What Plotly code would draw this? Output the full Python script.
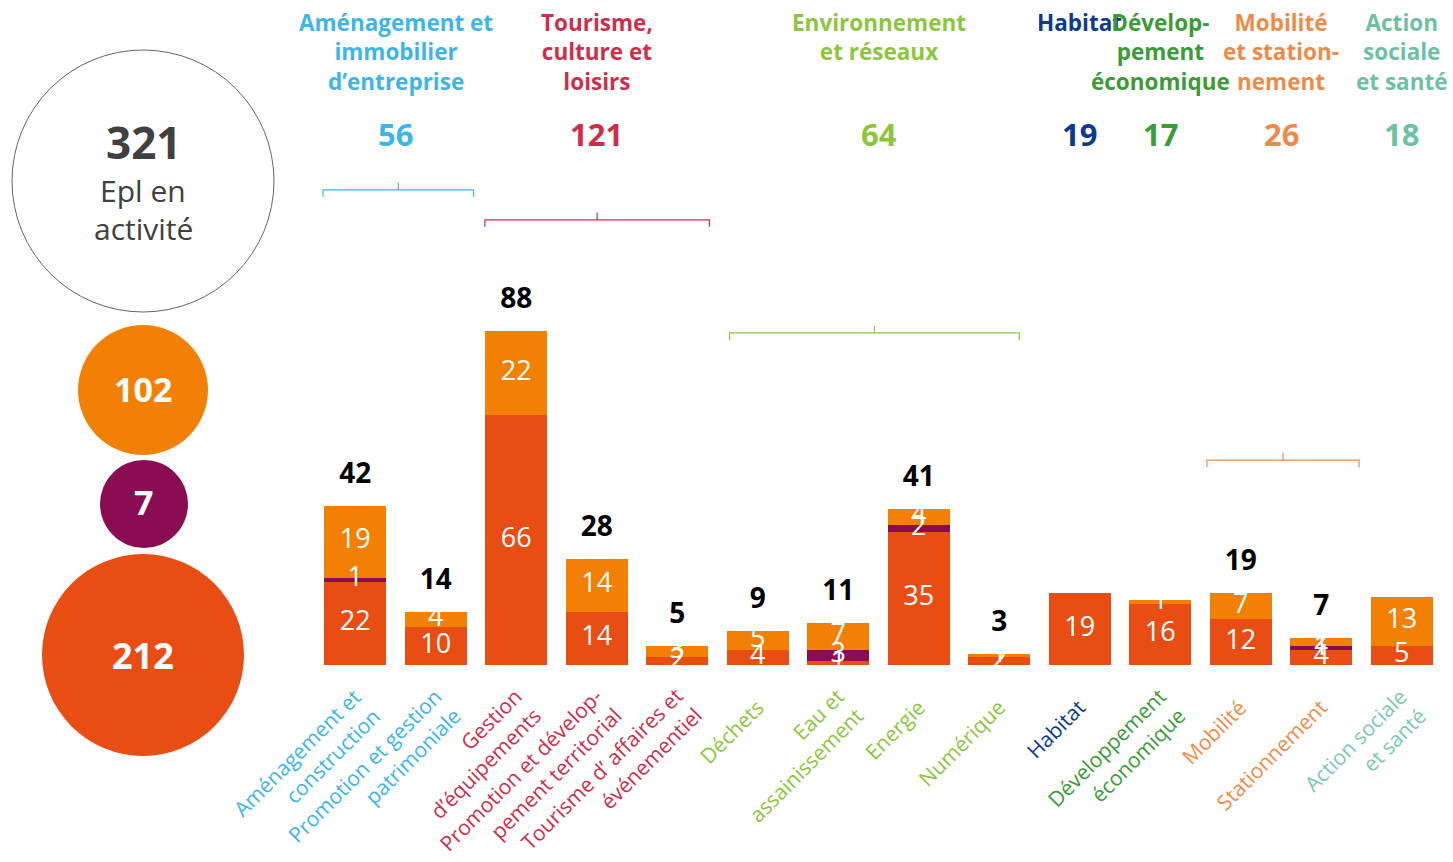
import plotly.graph_objects as go

# ---------------- data ----------------
categories = [
    "Aménagement et<br>construction",
    "Promotion et gestion<br>patrimoniale",
    "Gestion<br>d’équipements",
    "Promotion et dévelop-<br>pement territorial",
    "Tourisme d’ affaires et<br>événementiel",
    "Déchets",
    "Eau et<br>assainissement",
    "Energie",
    "Numérique",
    "Habitat",
    "Développement<br>économique",
    "Mobilité",
    "Stationnement",
    "Action sociale<br>et santé",
]
red_vals    = [22, 10, 66, 14, 2, 4, 1, 35, 2, 19, 16, 12, 4, 5]
purple_vals = [1, 0, 0, 0, 0, 0, 3, 2, 0, 0, 0, 0, 1, 0]
orange_vals = [19, 4, 22, 14, 3, 5, 7, 4, 1, 0, 1, 7, 2, 13]
show_total  = [True, True, True, True, True, True, True, True, True,
               False, False, True, True, False]

group_names = [
    "Aménagement et<br>immobilier<br>d’entreprise",
    "Tourisme,<br>culture et<br>loisirs",
    "Environnement<br>et réseaux",
    "Habitat",
    "Dévelop-<br>pement<br>économique",
    "Mobilité<br>et station-<br>nement",
    "Action<br>sociale<br>et santé",
]
group_members = [[0, 1], [2, 3, 4], [5, 6, 7, 8], [9], [10], [11, 12], [13]]

circle_values = [102, 7, 212]   # orange, purple, red
circle_total = 321

# ---------------- style ----------------
W, H = 1453, 862
FONT = "Open Sans"
RED, ORANGE, PURPLE = "#e84e14", "#f18005", "#8a0c52"
group_colors = ["#3db5e9", "#cf2e4b", "#8dc53e", "#0d3b8b", "#3b9b37", "#ee8b48", "#6dc1a2"]
label_colors = ["#3db5e9", "#cf2e4b", "#8dc53e", "#0d3b8b", "#3b9b37", "#ee8b48", "#7ccab0"]
bracket_levels = [125.2, 117.3, 87.5, None, None, 54.0, None]  # y (data units)
bracket_ext = [(-0.4, 0.47), (-0.39, 0.4), (-0.35, 0.25), None, None, (-0.42, 0.47), None]

BASE_PX = 665          # pixel row of the baseline
PXU = 3.795            # pixels per unit
YMAX = BASE_PX / PXU
X0_PX, X1_PX = 315, 1442

n = len(categories)
xs = list(range(n))

fig = go.Figure()

for vals, col in [(red_vals, RED), (purple_vals, PURPLE), (orange_vals, ORANGE)]:
    fig.add_trace(go.Bar(x=xs, y=vals, marker=dict(color=col, line=dict(width=0)),
                         hoverinfo="skip", showlegend=False))

# labels inside segments
lx, ly, lt = [], [], []
for i in range(n):
    base = 0
    for v in (red_vals[i], purple_vals[i], orange_vals[i]):
        if v > 0:
            lx.append(i); ly.append(base + v / 2); lt.append(str(v))
        base += v
fig.add_trace(go.Scatter(x=lx, y=ly, text=lt, mode="text", textposition="middle center",
                         textfont=dict(family=FONT, size=27, color="white"),
                         hoverinfo="skip", showlegend=False, cliponaxis=False))

# totals above bars
totals = [red_vals[i] + purple_vals[i] + orange_vals[i] for i in range(n)]
tx = [i for i in range(n) if show_total[i]]
fig.add_trace(go.Scatter(x=tx, y=[totals[i] + 30 / PXU for i in tx],
                         text=[str(totals[i]) for i in tx], mode="text",
                         textposition="middle center",
                         textfont=dict(family=FONT, size=28, color="black", weight="bold"),
                         hoverinfo="skip", showlegend=False, cliponaxis=False))

# left circles (pixel-space axes)
fig.add_trace(go.Scatter(
    x=[143, 143, 144, 143], y=[181, 390, 504, 655], mode="markers",
    marker=dict(size=[262, 130, 88, 202], color=["white", ORANGE, PURPLE, RED], opacity=1,
                line=dict(width=[1, 0, 0, 0], color="#666666")),
    xaxis="x2", yaxis="y2", hoverinfo="skip", showlegend=False, cliponaxis=False))

annotations = []
annotations.append(dict(x=143, y=142, xref="x2", yref="y2", text=f"<b>{circle_total}</b>",
                        showarrow=False, font=dict(family=FONT, size=44, color="#404040")))
annotations.append(dict(x=143, y=190, xref="x2", yref="y2", text="Epl en",
                        showarrow=False, font=dict(family=FONT, size=30, color="#404040")))
annotations.append(dict(x=143, y=228, xref="x2", yref="y2", text="activité",
                        showarrow=False, font=dict(family=FONT, size=30, color="#404040")))
for (cy, fs), v in zip([(389, 34), (502, 34), (655, 36)], circle_values):
    annotations.append(dict(x=143, y=cy, xref="x2", yref="y2", text=f"<b>{v}</b>",
                            showarrow=False, font=dict(family=FONT, size=fs, color="white")))

# category labels (rotated)
for i, cat in enumerate(categories):
    nl = cat.count("<br>") + 1
    g = [k for k, m in enumerate(group_members) if i in m][0]
    annotations.append(dict(
        x=i, y=0, xref="x", yref="y", text=cat, textangle=-45, showarrow=False,
        xanchor="right", yanchor="top", align="right",
        xshift=14 if nl == 1 else 33, yshift=-(26 if nl == 1 else 15),
        font=dict(family=FONT, size=21, color=label_colors[g])))

# group headers, group totals, brackets
shapes = []
for g, (name, mem) in enumerate(zip(group_names, group_members)):
    cx = (mem[0] + mem[-1]) / 2
    col = group_colors[g]
    annotations.append(dict(x=cx, y=1 - 5 / H, xref="x", yref="paper", text=f"<b>{name}</b>",
                            showarrow=False, yanchor="top", align="center",
                            font=dict(family=FONT, size=22.5, color=col)))
    gsum = sum(totals[i] for i in mem)
    annotations.append(dict(x=cx, y=1 - 134 / H, xref="x", yref="paper", text=f"<b>{gsum}</b>",
                            showarrow=False, yanchor="middle",
                            font=dict(family=FONT, size=31, color=col)))
    lvl = bracket_levels[g]
    if lvl is not None:
        ea, eb = bracket_ext[g]
        a, b = mem[0] + ea, mem[-1] + eb
        mid = (a + b) / 2
        t = 7 / PXU
        path = (f"M {a} {lvl - t} L {a} {lvl} L {b} {lvl} L {b} {lvl - t} "
                f"M {mid} {lvl} L {mid} {lvl + t}")
        shapes.append(dict(type="path", path=path, xref="x", yref="y",
                           line=dict(color=col, width=1.2)))

fig.update_layout(
    width=W, height=H, autosize=False,
    margin=dict(l=0, r=0, t=0, b=0),
    paper_bgcolor="white", plot_bgcolor="rgba(0,0,0,0)",
    barmode="stack", bargap=0.23,
    xaxis=dict(domain=[X0_PX / W, X1_PX / W], range=[-0.5, n - 0.5], visible=False,
               fixedrange=True),
    yaxis=dict(domain=[(H - BASE_PX) / H, 1], range=[0, YMAX], visible=False, fixedrange=True),
    xaxis2=dict(domain=[0, 1], range=[0, W], visible=False, anchor="y2"),
    yaxis2=dict(domain=[0, 1], range=[H, 0], visible=False, anchor="x2"),
    annotations=annotations, shapes=shapes,
    showlegend=False,
)

fig.write_html("out.html", config={"displayModeBar": False},
               post_script="document.body.style.margin='0';document.body.style.overflow='hidden';")
